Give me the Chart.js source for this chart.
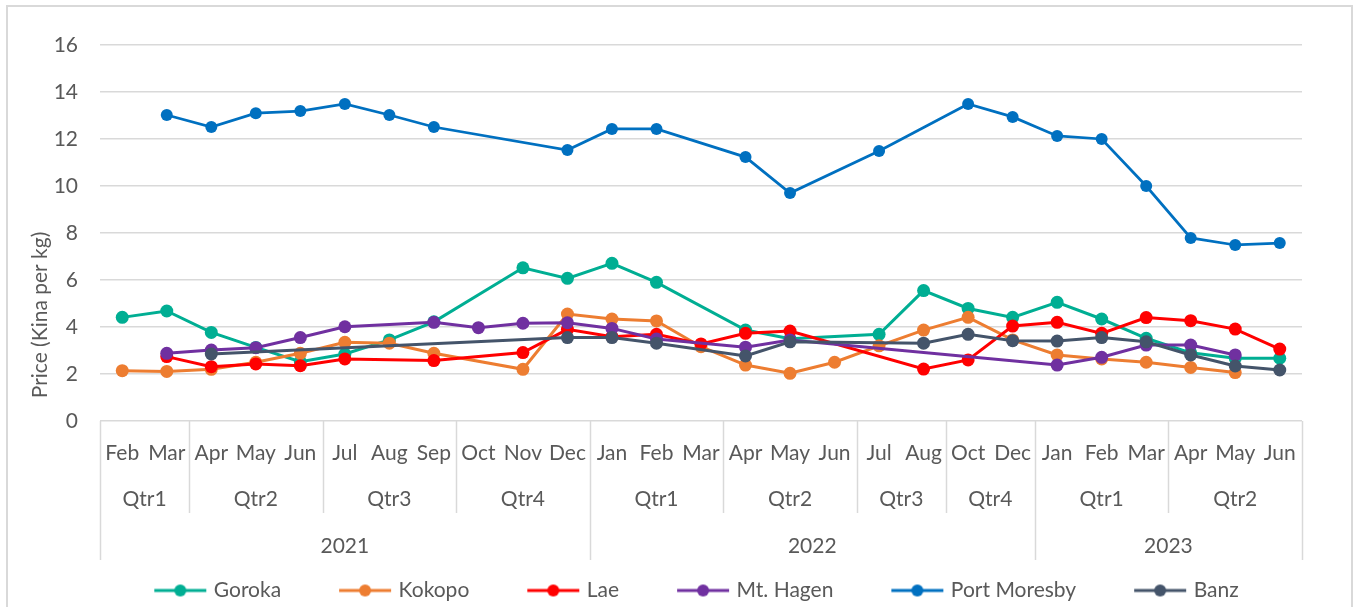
<!DOCTYPE html>
<html>
<head>
<meta charset="utf-8">
<script src="https://cdn.jsdelivr.net/npm/chart.js@4/dist/chart.umd.min.js"></script>
<style>
html,body{margin:0;padding:0;background:#fff;}
canvas{display:block;}
</style>
</head>
<body>
<canvas id="c" width="1354" height="607"></canvas>
<script>
// ---- data ----
const months = ['Feb','Mar','Apr','May','Jun','Jul','Aug','Sep','Oct','Nov','Dec',
                'Jan','Feb','Mar','Apr','May','Jun','Jul','Aug','Oct','Dec',
                'Jan','Feb','Mar','Apr','May','Jun'];
const quarterLabels = ['Qtr1','Qtr2','Qtr3','Qtr4','Qtr1','Qtr2','Qtr3','Qtr4','Qtr1','Qtr2'];
const quarterSpans  = [2,3,3,3,3,3,2,2,3,3];
const yearLabels = ['2021','2022','2023'];
const yearSpans  = [11,10,6];
const yTicks = [0,2,4,6,8,10,12,14,16];

const goroka      = [4.41,4.68,3.77,3.13,2.52,2.85,3.45,4.22,null,6.52,6.07,6.71,5.90,null,3.87,3.50,null,3.69,5.55,4.79,4.41,5.05,4.34,3.52,2.90,2.67,2.67];
const kokopo      = [2.14,2.11,2.20,2.50,2.88,3.35,3.31,2.88,null,2.20,4.55,4.34,4.26,3.16,2.38,2.03,2.50,3.20,3.87,4.41,3.45,2.81,2.64,2.50,2.28,2.06,null];
const lae         = [null,2.74,2.31,2.43,2.35,2.64,null,2.57,null,2.91,3.90,3.59,3.69,3.28,3.73,3.83,null,null,2.21,2.60,4.04,4.20,3.73,4.40,4.27,3.91,3.06];
const mtHagen     = [null,2.88,3.02,3.12,3.55,4.01,null,4.20,3.97,4.16,4.18,3.94,3.49,null,3.14,3.45,null,null,null,null,null,2.38,2.71,3.23,3.23,2.81,null];
const portMoresby = [null,13.02,12.51,13.10,13.19,13.49,13.02,12.51,null,null,11.53,12.43,12.43,null,11.23,9.70,null,11.49,null,13.49,12.94,12.13,12.00,10.00,7.79,7.49,7.57];
const banz        = [null,null,2.85,null,null,null,null,null,null,null,3.55,3.55,3.31,null,2.77,3.37,null,null,3.31,3.69,3.42,3.40,3.55,3.37,2.81,2.34,2.17];

const seriesNames = ['Goroka','Kokopo','Lae','Mt. Hagen','Port Moresby','Banz'];
const seriesData  = [goroka, kokopo, lae, mtHagen, portMoresby, banz];
const seriesColors = ['#00AE93','#ED7D31','#FF0000','#7030A0','#0070C0','#44546A'];
const yTitle = 'Price (Kina per kg)';

// ---- styling ----
const FONT = 'Lato';
const TXT = '#595959';
const GRID = '#d9d9d9';
const FS = 21;
const LEG_PAD = 61;
Chart.defaults.font.family = FONT;
Chart.defaults.color = TXT;

function legendIcon(color){
  const c = document.createElement('canvas');
  c.width = 54; c.height = 14;
  const g = c.getContext('2d');
  g.strokeStyle = color; g.lineWidth = 3;
  g.beginPath(); g.moveTo(1,7); g.lineTo(53,7); g.stroke();
  g.fillStyle = color;
  g.beginPath(); g.arc(27,7,6,0,Math.PI*2); g.fill();
  return c;
}

const datasets = seriesNames.map((n,i)=>({
  label: n,
  data: seriesData[i],
  borderColor: seriesColors[i],
  backgroundColor: seriesColors[i],
  pointBackgroundColor: seriesColors[i],
  pointBorderColor: seriesColors[i],
  borderWidth: i===4 ? 2.75 : 3,
  pointRadius: i===4 ? 6 : 6.5,
  pointBorderWidth: 0,
  pointHoverRadius: 6,
  spanGaps: true,
  tension: 0,
  order: seriesNames.length - i
}));

const groupAxisPlugin = {
  id: 'groupAxis',
  beforeDraw(chart){
    const ctx = chart.ctx;
    ctx.save();
    ctx.strokeStyle = GRID; ctx.lineWidth = 2;
    ctx.strokeRect(7, 6, 1345, 640);
    ctx.restore();
  },
  afterLayout(chart){
    const lg = chart.legend;
    if (lg){ lg.top += 4; lg.bottom += 4; lg.left += 47; lg.right += 47; }
  },
  afterDraw(chart){
    const ctx = chart.ctx;
    const xs = chart.scales.x;
    const n = months.length;
    const base = chart.chartArea.bottom;
    const boundary = (i) => {
      if (i <= 0) return xs.left;
      if (i >= n) return xs.right;
      return (xs.getPixelForValue(i-1) + xs.getPixelForValue(i)) / 2;
    };
    ctx.save();
    ctx.strokeStyle = GRID; ctx.lineWidth = 1.5;
    let idx = 0;
    const qBounds = [0];
    quarterSpans.forEach(s => { idx += s; qBounds.push(idx); });
    const yBounds = [0];
    idx = 0;
    yearSpans.forEach(s => { idx += s; yBounds.push(idx); });
    qBounds.forEach(b => {
      if (yBounds.includes(b)) return;
      const x = Math.round(boundary(b)) + 0.5;
      ctx.beginPath(); ctx.moveTo(x, base); ctx.lineTo(x, base + 92); ctx.stroke();
    });
    yBounds.forEach(b => {
      const x = Math.round(boundary(b)) + 0.5;
      ctx.beginPath(); ctx.moveTo(x, base); ctx.lineTo(x, base + 139); ctx.stroke();
    });
    ctx.fillStyle = TXT;
    ctx.font = FS + 'px ' + FONT;
    ctx.textAlign = 'center';
    ctx.textBaseline = 'middle';
    for (let q = 0; q < quarterLabels.length; q++){
      const cx = (boundary(qBounds[q]) + boundary(qBounds[q+1])) / 2;
      ctx.fillText(quarterLabels[q], cx, base + 78);
    }
    for (let y = 0; y < yearLabels.length; y++){
      const cx = (boundary(yBounds[y]) + boundary(yBounds[y+1])) / 2;
      ctx.fillText(yearLabels[y], cx, base + 125);
    }
    ctx.save();
    ctx.translate(40, 315);
    ctx.rotate(-Math.PI/2);
    ctx.fillText(yTitle, 0, 0);
    ctx.restore();
    ctx.restore();
  }
};

new Chart(document.getElementById('c'), {
  type: 'line',
  data: { labels: months, datasets },
  plugins: [groupAxisPlugin],
  options: {
    responsive: false,
    devicePixelRatio: 1,
    animation: false,
    layout: { padding: { left: 0, right: 52, top: 45, bottom: 0 } },
    plugins: {
      tooltip: { enabled: false },
      legend: {
        position: 'bottom',
        labels: {
          font: { size: FS, family: FONT },
          color: TXT,
          usePointStyle: true,
          pointStyleWidth: 46,
          padding: LEG_PAD,
          generateLabels(chart){
            const items = Chart.defaults.plugins.legend.labels.generateLabels(chart);
            items.forEach(it => { it.pointStyle = legendIcon(seriesColors[it.datasetIndex]); it.lineWidth = 0; });
            return items;
          },
          sort: (a,b) => a.datasetIndex - b.datasetIndex
        }
      }
    },
    scales: {
      x: {
        type: 'category',
        offset: true,
        grid: { display: false, drawTicks: false },
        border: { display: false },
        ticks: { autoSkip: false, maxRotation: 0, minRotation: 0, font: { size: FS }, color: TXT, padding: 20 },
        afterFit(s){ s.height = 607 - 421 - (FS + LEG_PAD + 10); }
      },
      y: {
        min: 0, max: 16,
        afterBuildTicks(s){ s.ticks = yTicks.map(v => ({ value: v })); },
        grid: { color: GRID, lineWidth: 1.5, drawTicks: false },
        border: { display: false },
        ticks: { font: { size: FS }, color: TXT, padding: 22 },
        afterFit(s){ s.width = 100; }
      }
    }
  }
});
</script>
</body>
</html>
